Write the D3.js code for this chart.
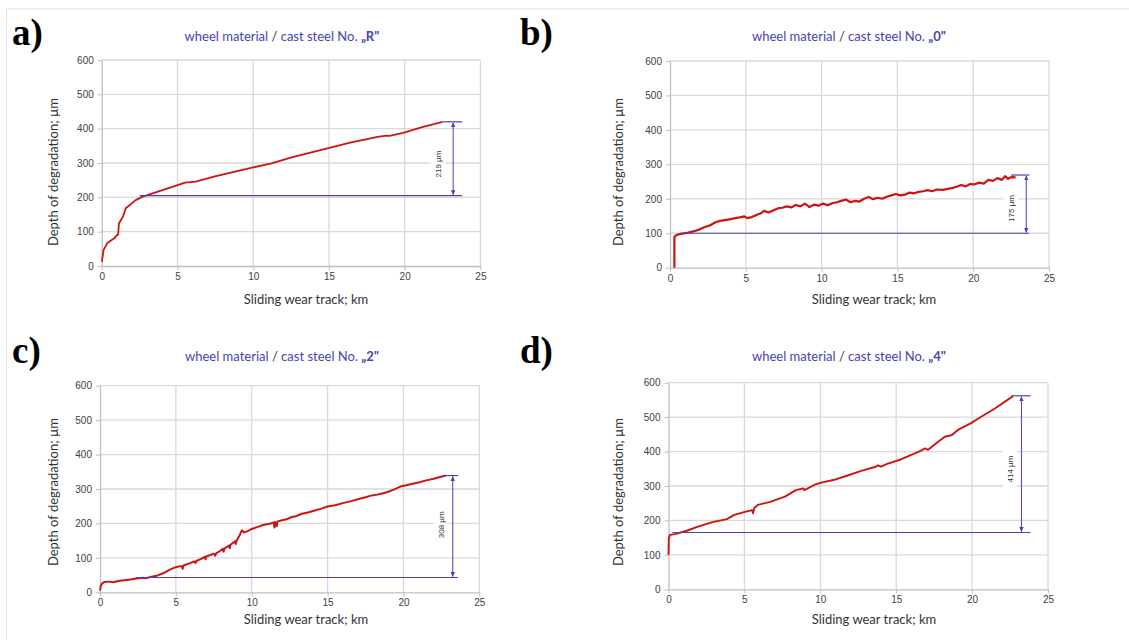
<!DOCTYPE html>
<html>
<head>
<meta charset="utf-8">
<script src="https://cdn.jsdelivr.net/npm/d3@7"></script>
<style>
  body { margin: 0; background: #fff; }
  svg { display: block; }
</style>
</head>
<body>
<svg id="chart" width="1129" height="640"></svg>
<script>
const xTicks = [0, 5, 10, 15, 20, 25];
const yTicks = [0, 100, 200, 300, 400, 500, 600];
const panelLetters = ["a)", "b)", "c)", "d)"];
const steelNames = ["R", "0", "2", "4"];

// [sliding track km, depth µm]
const curveR = [[0,12],[0.12,47],[0.35,66],[0.6,74],[0.83,81],[1.0,90],[1.08,92],[1.13,124],[1.4,144],
  [1.58,168],[1.75,174],[2.0,183],[2.24,192],[2.7,202],[3.4,212],[4.36,226],[5.5,243],[6.2,246],
  [7.4,260],[8.8,275],[10,287],[11.2,299],[12.6,317],[14.5,338],[16.4,359],[18.3,377],[18.8,380],
  [19.0,379],[19.9,388],[21.1,404],[22.5,420]];
const curve0 = [[0.29,0],[0.29,88],[0.35,93],[0.5,96],[0.8,99],[1.2,102],[1.6,106],[2.0,112],[2.3,118],
  [2.6,122],[3.0,132],[3.3,136],[3.6,138],[4.0,141],[4.3,144],[4.6,146],[4.9,149],[5.1,144],[5.4,147],
  [5.7,153],[6.0,158],[6.2,165],[6.5,160],[6.8,166],[7.1,172],[7.4,174],[7.7,178],[8.0,175],[8.3,182],
  [8.6,178],[8.9,186],[9.2,176],[9.5,183],[9.8,180],[10.1,186],[10.4,181],[10.7,187],[11.0,190],
  [11.3,194],[11.6,198],[11.9,190],[12.2,194],[12.5,192],[12.8,200],[13.1,205],[13.4,199],[13.7,203],
  [14.0,200],[14.3,206],[14.6,210],[14.9,214],[15.2,210],[15.5,212],[15.8,218],[16.1,216],[16.4,220],
  [16.7,222],[17.0,225],[17.3,222],[17.6,227],[18.0,226],[18.3,229],[18.6,231],[18.9,235],[19.2,240],
  [19.5,236],[19.8,243],[20.1,242],[20.4,247],[20.7,244],[21.0,255],[21.3,252],[21.6,260],[21.9,255],
  [22.1,266],[22.3,258],[22.5,263],[22.8,262]];
const curve2 = [[0,5],[0.05,18],[0.15,26],[0.3,30],[0.6,31],[0.9,29],[1.2,33],[1.6,35],[2.0,37],[2.4,40],
  [2.8,42],[3.0,41],[3.4,45],[3.8,49],[4.2,56],[4.6,66],[5.0,73],[5.3,76],[5.4,76],[5.45,68],[5.5,78],
  [5.9,84],[6.2,90],[6.3,85],[6.35,91],[6.7,98],[6.9,103],[6.95,96],[7.0,104],[7.5,112],[7.6,106],
  [7.65,113],[7.9,120],[8.1,126],[8.15,118],[8.2,127],[8.5,136],[8.55,128],[8.6,138],[8.9,148],
  [8.95,140],[9.0,150],[9.2,165],[9.35,180],[9.5,174],[9.7,177],[10.0,184],[10.4,190],[10.8,196],
  [11.2,199],[11.45,203],[11.5,188],[11.55,204],[11.65,192],[11.7,206],[12.0,209],[12.3,212],[12.6,218],
  [12.9,221],[13.3,228],[13.7,232],[14.1,237],[14.6,243],[15.0,249],[15.5,253],[16.0,259],[16.5,264],
  [17.0,270],[17.5,276],[17.8,280],[18.2,283],[18.6,287],[19.0,292],[19.4,299],[19.8,307],[20.2,311],
  [20.6,315],[21.0,319],[21.5,325],[22.0,330],[22.4,335],[22.8,339]];
const curve4 = [[0,100],[0.02,148],[0.1,158],[0.5,161],[1.2,170],[1.94,182],[2.9,195],[3.85,204],
  [4.33,216],[5.04,225],[5.5,230],[5.57,221],[5.65,236],[5.88,245],[6.7,254],[7.67,269],[8.4,288],
  [8.87,293],[8.95,288],[9.6,303],[10.06,310],[11,319],[11.7,329],[12.7,344],[13.65,356],[13.8,360],
  [14.0,356],[14.4,364],[15.3,377],[16.5,400],[16.9,409],[17.1,405],[17.7,426],[18.2,443],[18.67,448],
  [19.1,464],[19.9,482],[20.6,501],[21.5,525],[22.7,561]];

// wear annotation: reference levels (µm), km extents and label
const levelLow = [205, 100, 43, 165];
const levelHigh = [420, 269, 339, 562];
const lowStartKm = [2.5, 0.7, 2.35, 0.26];
const highStartKm = [22.5, 22.5, 22.6, 22.6];
const levelEndKm = [23.8, 23.7, 23.6, 23.85];
const arrowKm = [23.2, 23.5, 23.25, 23.25];
const labelKm = [22.2, 22.5, 22.5, 22.5];
const labelDepth = [297, 172, 196, 349];
const wearLabels = ["219 µm", "175 µm", "308 µm", "414 µm"];

const curves = [curveR, curve0, curve2, curve4];
const curveWidths = [1.8, 2.2, 2.0, 1.9];

const frames = [
  { left: 101.8, right: 480.4, top: 60, bottom: 266, letterX: 12, letterY: 45, titleX: 282, titleY: 41, yLabX: 53, yLabY: 172, xLabX: 306, xLabY: 304 },
  { left: 670, right: 1049, top: 61, bottom: 267.7, letterX: 520, letterY: 45, titleX: 849, titleY: 41, yLabX: 618, yLabY: 172, xLabX: 874, xLabY: 304 },
  { left: 100, right: 479.3, top: 385.7, bottom: 592.3, letterX: 12, letterY: 363, titleX: 282, titleY: 361, yLabX: 53, yLabY: 492, xLabX: 306, xLabY: 624 },
  { left: 668.5, right: 1048, top: 382.7, bottom: 589.3, letterX: 520, letterY: 363, titleX: 849, titleY: 361, yLabX: 618, yLabY: 492, xLabX: 874, xLabY: 624 }
];

const svg = d3.select("#chart");
const blue = "#4444b8";

svg.append("rect")
  .attr("x", 6.5).attr("y", 9)
  .attr("width", 1140).attr("height", 650)
  .attr("fill", "none").attr("stroke", "#e6e6e6");

const defs = svg.append("defs");
defs.append("marker")
  .attr("id", "arr")
  .attr("viewBox", "0 0 8 8")
  .attr("refX", 7).attr("refY", 4)
  .attr("markerWidth", 5).attr("markerHeight", 5)
  .attr("orient", "auto-start-reverse")
  .append("path")
  .attr("d", "M0,0.5 L8,4 L0,7.5 z")
  .attr("fill", blue);

frames.forEach((f, i) => {
  const x = d3.scaleLinear().domain([0, 25]).range([f.left, f.right]);
  const y = d3.scaleLinear().domain([0, 600]).range([f.bottom, f.top]);
  const g = svg.append("g");

  // grid
  g.selectAll(".gy").data(yTicks.slice(1)).join("line")
    .attr("x1", f.left).attr("x2", f.right)
    .attr("y1", d => y(d)).attr("y2", d => y(d))
    .attr("stroke", "#d9d9d9").attr("stroke-width", 1.3);
  g.selectAll(".gx").data(xTicks.slice(1)).join("line")
    .attr("x1", d => x(d)).attr("x2", d => x(d))
    .attr("y1", f.top).attr("y2", f.bottom)
    .attr("stroke", "#d9d9d9").attr("stroke-width", 1.3);

  // axes
  const ax = g.append("g").attr("transform", `translate(0,${f.bottom})`)
    .call(d3.axisBottom(x).tickValues(xTicks).tickSizeInner(4).tickSizeOuter(0).tickPadding(3));
  const ay = g.append("g").attr("transform", `translate(${f.left},0)`)
    .call(d3.axisLeft(y).tickValues(yTicks).tickSizeInner(4).tickSizeOuter(0).tickPadding(4));
  [ax, ay].forEach(a => {
    a.select(".domain").attr("stroke", "#bfbfbf").attr("stroke-width", 1.3);
    a.selectAll(".tick line").attr("stroke", "#bfbfbf");
    a.selectAll(".tick text")
      .attr("fill", "#404040")
      .style("font-family", "'Liberation Sans', Arial, sans-serif")
      .style("font-size", "10px");
  });

  // measured curve
  const line = d3.line().x(d => x(d[0])).y(d => y(d[1]));
  g.append("path")
    .datum(curves[i])
    .attr("d", line)
    .attr("fill", "none")
    .attr("stroke", "#cc1414")
    .attr("stroke-width", curveWidths[i])
    .attr("stroke-linejoin", "round");

  // wear annotation
  g.append("line")
    .attr("x1", x(lowStartKm[i])).attr("x2", x(levelEndKm[i]))
    .attr("y1", y(levelLow[i])).attr("y2", y(levelLow[i]))
    .attr("stroke", blue).attr("stroke-width", 1.2);
  g.append("line")
    .attr("x1", x(highStartKm[i])).attr("x2", x(levelEndKm[i]))
    .attr("y1", y(levelHigh[i])).attr("y2", y(levelHigh[i]))
    .attr("stroke", blue).attr("stroke-width", 1.2);
  g.append("line")
    .attr("x1", x(arrowKm[i])).attr("x2", x(arrowKm[i]))
    .attr("y1", y(levelHigh[i]) + 1).attr("y2", y(levelLow[i]) - 1)
    .attr("stroke", blue).attr("stroke-width", 1)
    .attr("marker-start", "url(#arr)")
    .attr("marker-end", "url(#arr)");
  const lx = x(labelKm[i]), ly = y(labelDepth[i]);
  g.append("rect")
    .attr("x", lx - 7).attr("y", ly - 19)
    .attr("width", 14).attr("height", 38)
    .attr("fill", "#fff");
  g.append("text")
    .attr("transform", `translate(${lx},${ly}) rotate(-90)`)
    .attr("text-anchor", "middle")
    .attr("dy", "0.35em")
    .attr("fill", "#333")
    .style("font-family", "'Liberation Sans', Arial, sans-serif")
    .style("font-size", "8px")
    .text(wearLabels[i]);

  // titles and labels
  const title = g.append("text")
    .attr("x", f.titleX).attr("y", f.titleY)
    .attr("text-anchor", "middle")
    .style("font-family", "Lato, 'Open Sans', sans-serif")
    .style("font-size", "13px")
    .attr("fill", blue);
  title.append("tspan").text("wheel material ");
  title.append("tspan").attr("fill", "#333").text("/");
  title.append("tspan").text(" cast steel No. ");
  title.append("tspan").style("font-weight", "bold").text("„" + steelNames[i] + "\"");

  g.append("text")
    .attr("x", f.letterX).attr("y", f.letterY)
    .style("font-family", "'Liberation Serif', 'Times New Roman', serif")
    .style("font-weight", "bold")
    .style("font-size", "37px")
    .attr("fill", "#000")
    .text(panelLetters[i]);

  g.append("text")
    .attr("transform", `translate(${f.yLabX},${f.yLabY}) rotate(-90)`)
    .attr("text-anchor", "middle")
    .attr("dy", "0.35em")
    .style("font-family", "Lato, 'Open Sans', sans-serif")
    .style("font-size", "13px")
    .attr("fill", "#333")
    .text("Depth of degradation; µm");

  g.append("text")
    .attr("x", f.xLabX).attr("y", f.xLabY)
    .attr("text-anchor", "middle")
    .style("font-family", "Lato, 'Open Sans', sans-serif")
    .style("font-size", "13px")
    .attr("fill", "#333")
    .text("Sliding wear track; km");
});
</script>
</body>
</html>
